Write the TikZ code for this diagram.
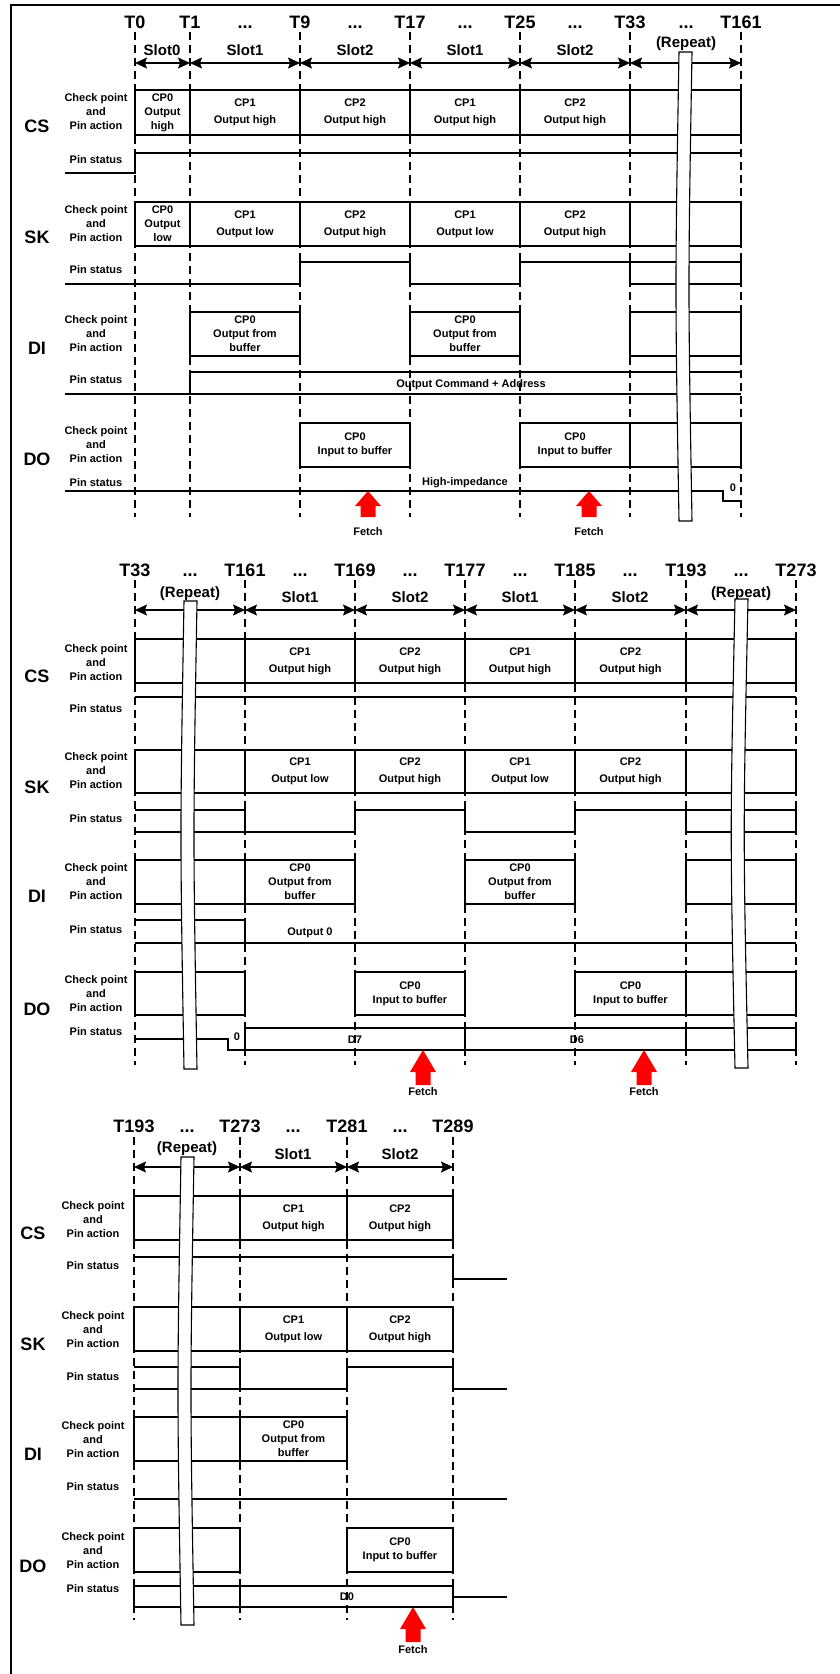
\documentclass[tikz,border=0pt]{standalone}
\usepackage{fontspec}
\setmainfont{Liberation Sans}
\usetikzlibrary{arrows.meta}
\newcommand\cb[6]{\draw[bx] (#1,#3) rectangle (#2,#4); \node[#5] at ({(#1+#2)/2},{(#3+#4)/2}) {#6};}
\newcommand\leftlab[6]{%
 \node[lb] at (#1,#4) {Check point\\and\\Pin action};
 \node[nm] at (#2,#5) {#3};
 \node[lb] at (#1,#6) {Pin status};}
\newcommand\rband[4]{%
 \draw[band] (#1,#2) -- ({#1+13},#2) .. controls ({#1+13-#4},{(#2+#3)/2}) .. ({#1+13},#3) -- (#1,#3) .. controls ({#1-#4},{(#2+#3)/2}) .. (#1,#2) -- cycle;}
\newcommand\fetch[5]{%
 \fill[red] (#1,#2) -- ({#1+13},{#2+#3}) -- ({#1+7.5},{#2+#3}) -- ({#1+7.5},{#2+#4}) -- ({#1-7.5},{#2+#4}) -- ({#1-7.5},{#2+#3}) -- ({#1-13},{#2+#3}) -- cycle;
 \node[lb] at (#1,#5) {Fetch};}
\begin{document}
\begin{tikzpicture}[x=1pt,y=-1pt,
  bx/.style={line width=1.1pt},
  sg/.style={line width=1.7pt},
  gd/.style={line width=1.1pt,dash pattern=on 8pt off 5pt},
  dimarr/.style={line width=1.1pt,{Stealth[length=12pt,width=11pt,inset=2pt]}-{Stealth[length=12pt,width=11pt,inset=2pt]}},
  tl/.style={font=\fontsize{18}{20}\selectfont\bfseries,anchor=base,inner sep=0pt},
  sl/.style={font=\fontsize{15}{17}\selectfont\bfseries,anchor=base,inner sep=0pt},
  nm/.style={font=\fontsize{18}{20}\selectfont\bfseries,anchor=base,inner sep=0pt},
  lb/.style={font=\fontsize{11}{14}\selectfont\bfseries,align=center,inner sep=0pt},
  cpa/.style={font=\fontsize{11}{17}\selectfont\bfseries,align=center,inner sep=0pt},
  cpb/.style={font=\fontsize{11}{14}\selectfont\bfseries,align=center,inner sep=0pt},
  band/.style={fill=white,draw=black,line width=1.1pt}
]
\useasboundingbox (0,0) rectangle (839,1674);
\draw[line width=2.6pt] (11,1680) -- (11,5) -- (845,5);

% ================= PANEL 1 =================
\foreach \x in {135,190,300,410,520,630,741} \draw[gd] (\x,32) -- (\x,517);
\foreach \x/\lab in {135/T0,190/T1,300/T9,410/T17,520/T25,630/T33,741/T161} \node[tl] at (\x,28) {\lab};
\foreach \x in {245,355,465,575,686} \node[tl] at (\x,28) {...};
\node[sl] at (162,55) {Slot0};
\foreach \x/\lab in {245/Slot1,355/Slot2,465/Slot1,575/Slot2} \node[sl] at (\x,55) {\lab};
\node[sl] at (686,47) {(Repeat)};
\foreach \a/\b in {135/190,190/300,300/410,410/520,520/630,630/741} \draw[dimarr] (\a,63) -- (\b,63);

\leftlab{96}{37}{CS}{112}{132}{160}
\cb{135}{190}{90}{135}{cpb}{CP0\\Output\\high}
\cb{190}{300}{90}{135}{cpa}{CP1\\Output high}
\cb{300}{410}{90}{135}{cpa}{CP2\\Output high}
\cb{410}{520}{90}{135}{cpa}{CP1\\Output high}
\cb{520}{630}{90}{135}{cpa}{CP2\\Output high}
\cb{630}{741}{90}{135}{cpb}{}
\draw[sg] (65,173) -- (135,173) -- (135,153) -- (741,153);

\leftlab{96}{37}{SK}{224}{243}{270}
\cb{135}{190}{202}{246}{cpb}{CP0\\Output\\low}
\cb{190}{300}{202}{246}{cpa}{CP1\\Output low}
\cb{300}{410}{202}{246}{cpa}{CP2\\Output high}
\cb{410}{520}{202}{246}{cpa}{CP1\\Output low}
\cb{520}{630}{202}{246}{cpa}{CP2\\Output high}
\cb{630}{741}{202}{246}{cpb}{}
\draw[sg] (65,284) -- (300,284) -- (300,262) -- (410,262) -- (410,284) -- (520,284) -- (520,262) -- (741,262) -- (741,284) -- (630,284) -- (630,262);

\leftlab{96}{37}{DI}{334}{354}{380}
\cb{190}{300}{312}{356}{cpb}{CP0\\Output from\\buffer}
\cb{410}{520}{312}{356}{cpb}{CP0\\Output from\\buffer}
\cb{630}{741}{312}{356}{cpb}{}
\draw[sg] (65,394) -- (741,394);
\draw[sg] (190,394) -- (190,372) -- (741,372);
\node[lb] at (471,385) {Output Command + Address};

\leftlab{96}{37}{DO}{445}{465}{483}
\cb{300}{410}{423}{467}{cpb}{CP0\\Input to buffer}
\cb{520}{630}{423}{467}{cpb}{CP0\\Input to buffer}
\cb{630}{741}{423}{467}{cpb}{}
\draw[sg] (65,491) -- (723,491) -- (723,501) -- (741,501);
\node[lb] at (465,483) {High-impedance};
\node[lb] at (733,488) {0};

\rband{679}{52}{521}{4}
\fetch{368}{491}{15}{26}{532}
\fetch{589}{491}{15}{26}{532}

% ================= PANEL 2 =================
\foreach \x in {135,245,355,465,575,686,796} \draw[gd] (\x,580) -- (\x,1065);
\foreach \x/\lab in {135/T33,245/T161,355/T169,465/T177,575/T185,686/T193,796/T273} \node[tl] at (\x,576) {\lab};
\foreach \x in {190,300,410,520,630,741} \node[tl] at (\x,576) {...};
\node[sl] at (190,597) {(Repeat)};
\node[sl] at (741,597) {(Repeat)};
\foreach \x/\lab in {300/Slot1,410/Slot2,520/Slot1,630/Slot2} \node[sl] at (\x,602) {\lab};
\foreach \a/\b in {135/245,245/355,355/465,465/575,575/686,686/796} \draw[dimarr] (\a,610) -- (\b,610);

\leftlab{96}{37}{CS}{663}{682}{709}
\cb{135}{245}{639}{683}{cpb}{}
\cb{245}{355}{639}{683}{cpa}{CP1\\Output high}
\cb{355}{465}{639}{683}{cpa}{CP2\\Output high}
\cb{465}{575}{639}{683}{cpa}{CP1\\Output high}
\cb{575}{686}{639}{683}{cpa}{CP2\\Output high}
\cb{686}{796}{639}{683}{cpb}{}
\draw[sg] (135,697) -- (796,697);

\leftlab{96}{37}{SK}{771}{793}{819}
\cb{135}{245}{750}{793}{cpb}{}
\cb{245}{355}{750}{793}{cpa}{CP1\\Output low}
\cb{355}{465}{750}{793}{cpa}{CP2\\Output high}
\cb{465}{575}{750}{793}{cpa}{CP1\\Output low}
\cb{575}{686}{750}{793}{cpa}{CP2\\Output high}
\cb{686}{796}{750}{793}{cpb}{}
\draw[sg] (135,810) -- (245,810) -- (245,832) -- (355,832) -- (355,810) -- (465,810) -- (465,832) -- (575,832) -- (575,810) -- (796,810) -- (796,832) -- (686,832) -- (686,810);
\draw[sg] (135,832) -- (245,832);

\leftlab{96}{37}{DI}{882}{902}{930}
\cb{135}{245}{860}{904}{cpb}{}
\cb{245}{355}{860}{904}{cpb}{CP0\\Output from\\buffer}
\cb{465}{575}{860}{904}{cpb}{CP0\\Output from\\buffer}
\cb{686}{796}{860}{904}{cpb}{}
\draw[sg] (135,920) -- (245,920) -- (245,943);
\draw[sg] (135,943) -- (796,943);
\node[lb] at (310,933) {Output 0};

\leftlab{96}{37}{DO}{994}{1015}{1032}
\cb{135}{245}{972}{1015}{cpb}{}
\cb{355}{465}{972}{1015}{cpb}{CP0\\Input to buffer}
\cb{575}{686}{972}{1015}{cpb}{CP0\\Input to buffer}
\cb{686}{796}{972}{1015}{cpb}{}
\draw[sg] (135,1039) -- (228,1039) -- (228,1050) -- (245,1050);
\node[lb] at (237,1037) {0};
\draw[sg] (245,1028) -- (796,1028) -- (796,1050) -- (245,1050) -- cycle;
\foreach \x in {465,686} \draw[sg] (\x,1028) -- (\x,1050);
\node[lb] at (355,1040) {D7};
\node[lb] at (577,1040) {D6};

\rband{184}{601}{1069}{4}
\rband{735}{599}{1068}{5}
\fetch{423}{1050}{22}{35}{1092}
\fetch{644}{1050}{22}{35}{1092}

% ================= PANEL 3 =================
\foreach \x in {134,240,347,453} \draw[gd] (\x,1137) -- (\x,1620);
\foreach \x/\lab in {134/T193,240/T273,347/T281,453/T289} \node[tl] at (\x,1132) {\lab};
\foreach \x in {187,293,400} \node[tl] at (\x,1132) {...};
\node[sl] at (187,1152) {(Repeat)};
\node[sl] at (293,1159) {Slot1};
\node[sl] at (400,1159) {Slot2};
\foreach \a/\b in {134/240,240/347,347/453} \draw[dimarr] (\a,1167) -- (\b,1167);

\leftlab{93}{33}{CS}{1220}{1239}{1266}
\cb{134}{240}{1196}{1240}{cpb}{}
\cb{240}{347}{1196}{1240}{cpa}{CP1\\Output high}
\cb{347}{453}{1196}{1240}{cpa}{CP2\\Output high}
\draw[sg] (134,1257) -- (453,1257) -- (453,1279) -- (507,1279);

\leftlab{93}{33}{SK}{1330}{1350}{1377}
\cb{134}{240}{1307}{1351}{cpb}{}
\cb{240}{347}{1307}{1351}{cpa}{CP1\\Output low}
\cb{347}{453}{1307}{1351}{cpa}{CP2\\Output high}
\draw[sg] (134,1389) -- (347,1389) -- (347,1367) -- (453,1367) -- (453,1389) -- (507,1389);
\draw[sg] (134,1367) -- (240,1367) -- (240,1389);

\leftlab{93}{33}{DI}{1440}{1460}{1487}
\cb{134}{240}{1417}{1461}{cpb}{}
\cb{240}{347}{1417}{1461}{cpb}{CP0\\Output from\\buffer}
\draw[sg] (134,1499) -- (507,1499);

\leftlab{93}{33}{DO}{1551}{1572}{1589}
\cb{134}{240}{1528}{1572}{cpb}{}
\cb{347}{453}{1528}{1572}{cpb}{CP0\\Input to buffer}
\draw[sg] (134,1586) rectangle (453,1607);
\draw[sg] (240,1586) -- (240,1607);
\draw[sg] (453,1597) -- (507,1597);
\node[lb] at (347,1597) {D0};

\rband{181}{1157}{1625}{4}
\fetch{413}{1607}{22}{35}{1650}
\end{tikzpicture}
\end{document}
